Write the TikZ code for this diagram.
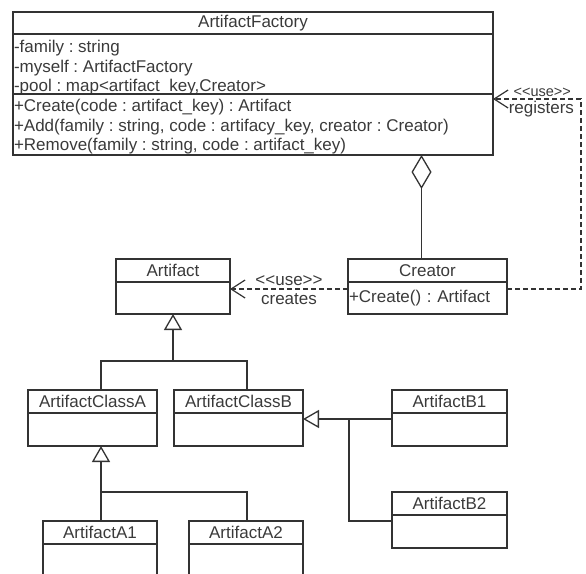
\documentclass[tikz,border=0pt]{standalone}
\usepackage{fontspec}
\setmainfont{Liberation Sans}
\usetikzlibrary{positioning,arrows.meta}
\definecolor{linegray}{HTML}{333333}
\definecolor{textgray}{HTML}{3A3A3A}
\newcommand{\umlfont}{\fontsize{17}{19.5}\selectfont}
\newcommand{\stereo}{<\kern0pt<use>\kern0pt>}
\newcommand{\members}[3]{\begin{minipage}[c][#1][t]{478pt}\raggedright\vspace*{#2}#3\end{minipage}}
\frenchspacing

\begin{document}
\begin{tikzpicture}[x=1pt, y=-1pt, line width=1.3pt, draw=linegray, text=textgray,
    uml/.style={draw=linegray, inner sep=1pt, outer sep=0pt, font=\umlfont},
    classname/.style={uml, anchor=north west, minimum height=23pt},
    classbody/.style={uml, minimum height=33pt},
    gen/.style={-{Triangle[open, length=16pt, width=18pt]}},
    dep/.style={dash pattern=on 5pt off 3pt, -{Straight Barb[length=14pt, width=18pt, line width=1.2pt]}},
    agg/.style={-{Diamond[open, length=34pt, width=20pt]}},
    lbl/.style={font=\fontsize{17}{19}\selectfont, inner sep=1pt}]
    \useasboundingbox (0,0) rectangle (586,573);
    \clip (0,0) rectangle (586,573);

    % factory
    \node[classname, minimum width=480pt, minimum height=22pt] (Factory) at (13,12) {ArtifactFactory};
    \node[classbody, below=0pt of Factory, minimum width=480pt] (FactoryAttr)
        {\members{58pt}{5.5pt}{-family : string\\-myself : ArtifactFactory\\-pool : map<artifact\_key,Creator>}};
    \node[classbody, below=0pt of FactoryAttr, minimum width=480pt] (FactoryOps)
        {\members{59pt}{4.5pt}{+Create(code : artifact\_key) : Artifact\\
         +Add(family : string, code : artifacy\_key, creator : Creator)\\
         +Remove(family : string, code : artifact\_key)}};

    % creator and product
    \node[classname, minimum width=159pt] (Creator) at (348,259) {Creator};
    \node[classbody, below=0pt of Creator, minimum width=159pt, minimum height=32pt,
          text width=157pt, align=left] (CreatorOps) {+Create() : Artifact};
    \node[classname, minimum width=114pt] (Artifact) at (116,259) {Artifact};
    \node[classbody, below=0pt of Artifact, minimum width=114pt, minimum height=32pt] (ArtifactBody) {};

    % concrete classes
    \node[classname, minimum width=129pt] (ClassA) at (28,390) {ArtifactClassA};
    \node[classbody, below=0pt of ClassA, minimum width=129pt] (ClassABody) {};
    \node[classname, minimum width=129pt] (ClassB) at (174,390) {ArtifactClassB};
    \node[classbody, below=0pt of ClassB, minimum width=129pt] (ClassBBody) {};
    \node[classname, minimum width=115pt] (B1) at (392,390) {ArtifactB1};
    \node[classbody, below=0pt of B1, minimum width=115pt] (B1Body) {};
    \node[classname, minimum width=115pt] (B2) at (392,492) {ArtifactB2};
    \node[classbody, below=0pt of B2, minimum width=115pt] (B2Body) {};
    \node[classname, minimum width=114pt] (A1) at (43,521) {ArtifactA1};
    \node[classbody, below=0pt of A1, minimum width=114pt, minimum height=40pt] (A1Body) {};
    \node[classname, minimum width=114pt] (A2) at (189,521) {ArtifactA2};
    \node[classbody, below=0pt of A2, minimum width=114pt, minimum height=40pt] (A2Body) {};

    % helper points
    \coordinate (aggx) at (421.5,0);
    \coordinate (useline) at (0,289);
    \coordinate (reg) at (581,99);
    \coordinate (splitTop) at (101,361);
    \coordinate (splitTopB) at (247,361);
    \coordinate (splitA) at (101,492);
    \coordinate (splitAB) at (247,492);
    \coordinate (splitB) at (349,419);
    \coordinate (splitB2) at (349,521);

    % aggregation
    \draw[agg] (Creator.north -| aggx) -- (FactoryOps.south -| aggx);

    % dependencies
    \draw[dep] (CreatorOps.west |- useline) -- (ArtifactBody.east |- useline)
        node[lbl, midway, above=2pt] {\stereo}
        node[lbl, midway, below=3pt] {creates};
    \draw[dep] (CreatorOps.east |- useline) -| (reg) -- (FactoryOps.east |- reg)
        node[lbl, pos=0.44, above=1pt, font=\fontsize{14.5}{16}\selectfont] {\stereo}
        node[lbl, pos=0.45, below=1pt] {registers};

    % generalisations
    \draw[gen] (ClassA.north -| splitTop) -- (splitTop) -| (ArtifactBody.south);
    \draw (ClassB.north -| splitTopB) |- (splitTop);
    \draw[gen] (A1.north -| splitA) -- (ClassABody.south -| splitA);
    \draw (A2.north -| splitAB) |- (splitA);
    \draw[gen] (B1Body.west |- splitB) -- (ClassBBody.east |- splitB);
    \draw (B2Body.west |- splitB2) -| (splitB);
\end{tikzpicture}
\end{document}
